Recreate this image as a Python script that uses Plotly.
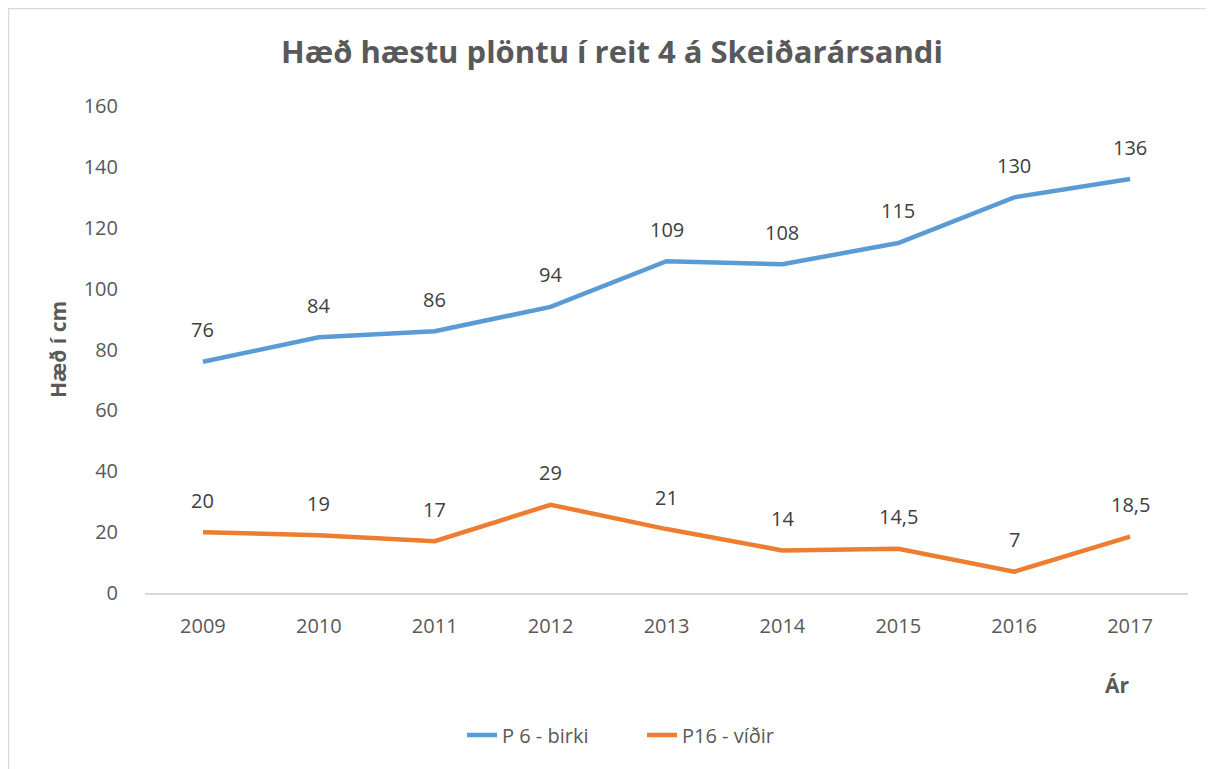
import plotly.graph_objects as go

years = ["2009", "2010", "2011", "2012", "2013", "2014", "2015", "2016", "2017"]
birki = [76, 84, 86, 94, 109, 108, 115, 130, 136]
vidir = [20, 19, 17, 29, 21, 14, 14.5, 7, 18.5]
birki_labels = ["76", "84", "86", "94", "109", "108", "115", "130", "136"]
vidir_labels = ["20", "19", "17", "29", "21", "14", "14,5", "7", "18,5"]

FONT = "Open Sans"
GREY = "#595959"

# page body has an 8px margin, so the figure is drawn 8px smaller
W, H = 1206, 761
L, R, T, B = 137, 1180, 98, 585
PW, PH = R - L, B - T

fig = go.Figure()
fig.add_trace(go.Scatter(x=years, y=birki, mode="lines", name="P 6 - birki",
                         line=dict(color="#5B9BD5", width=4.5)))
fig.add_trace(go.Scatter(x=years, y=vidir, mode="lines", name="P16 - víðir",
                         line=dict(color="#ED7D31", width=4.5)))

annotations = []
for i, (v, t) in enumerate(zip(birki, birki_labels)):
    annotations.append(dict(x=i, y=v, text=t, showarrow=False, yshift=32,
                            font=dict(family=FONT, size=20, color="#404040")))
for i, (v, t) in enumerate(zip(vidir, vidir_labels)):
    annotations.append(dict(x=i, y=v, text=t, showarrow=False, yshift=32,
                            font=dict(family=FONT, size=20, color="#404040")))
annotations.append(dict(xref="paper", yref="paper", x=(1109 - L) / PW, y=-(677 - B) / PH,
                        xanchor="center", yanchor="middle",
                        text="<b>Ár</b>", showarrow=False,
                        font=dict(family=FONT, size=21, color=GREY)))
annotations.append(dict(xref="paper", yref="paper", x=-(L - 50) / PW, y=(B - 342) / PH,
                        xanchor="center", yanchor="middle",
                        text="<b>Hæð í cm</b>", showarrow=False, textangle=-90,
                        font=dict(family=FONT, size=21, color=GREY)))

fig.update_layout(
    width=W, height=H,
    margin=dict(l=L, r=W - R, t=T, b=H - B, autoexpand=False),
    paper_bgcolor="white", plot_bgcolor="white",
    title=dict(text="<b>Hæð hæstu plöntu í reit 4 á Skeiðarársandi</b>",
               x=(612 - 8 - L) / PW, xref="paper", xanchor="center", y=1 - 44 / H, yanchor="middle",
               font=dict(family=FONT, size=31, color=GREY)),
    showlegend=True,
    legend=dict(orientation="h", x=(454 - L) / PW, xanchor="left", y=-(727 - B) / PH, yanchor="middle",
                font=dict(family=FONT, size=20, color=GREY), entrywidth=135),
    annotations=annotations,
    shapes=[dict(type="rect", xref="paper", yref="paper",
                 x0=-(L - 0.5) / PW, x1=1 + (W + 10 - R) / PW,
                 y0=-(H + 10 - B) / PH, y1=1 + (T - 0.5) / PH,
                 line=dict(color="#D9D9D9", width=1.5), layer="below")],
)
fig.update_xaxes(type="category", range=[-0.5, 8.5], showgrid=False, showline=True,
                 linecolor="#D9D9D9", linewidth=1.5, ticks="", ticklabelstandoff=14,
                 tickfont=dict(family=FONT, size=20, color=GREY), zeroline=False)
fig.update_yaxes(range=[0, 160], dtick=20, showgrid=False, showline=False, zeroline=False,
                 tickfont=dict(family=FONT, size=20, color=GREY), ticks="", ticklabelstandoff=26)

fig.write_html("out.html")
